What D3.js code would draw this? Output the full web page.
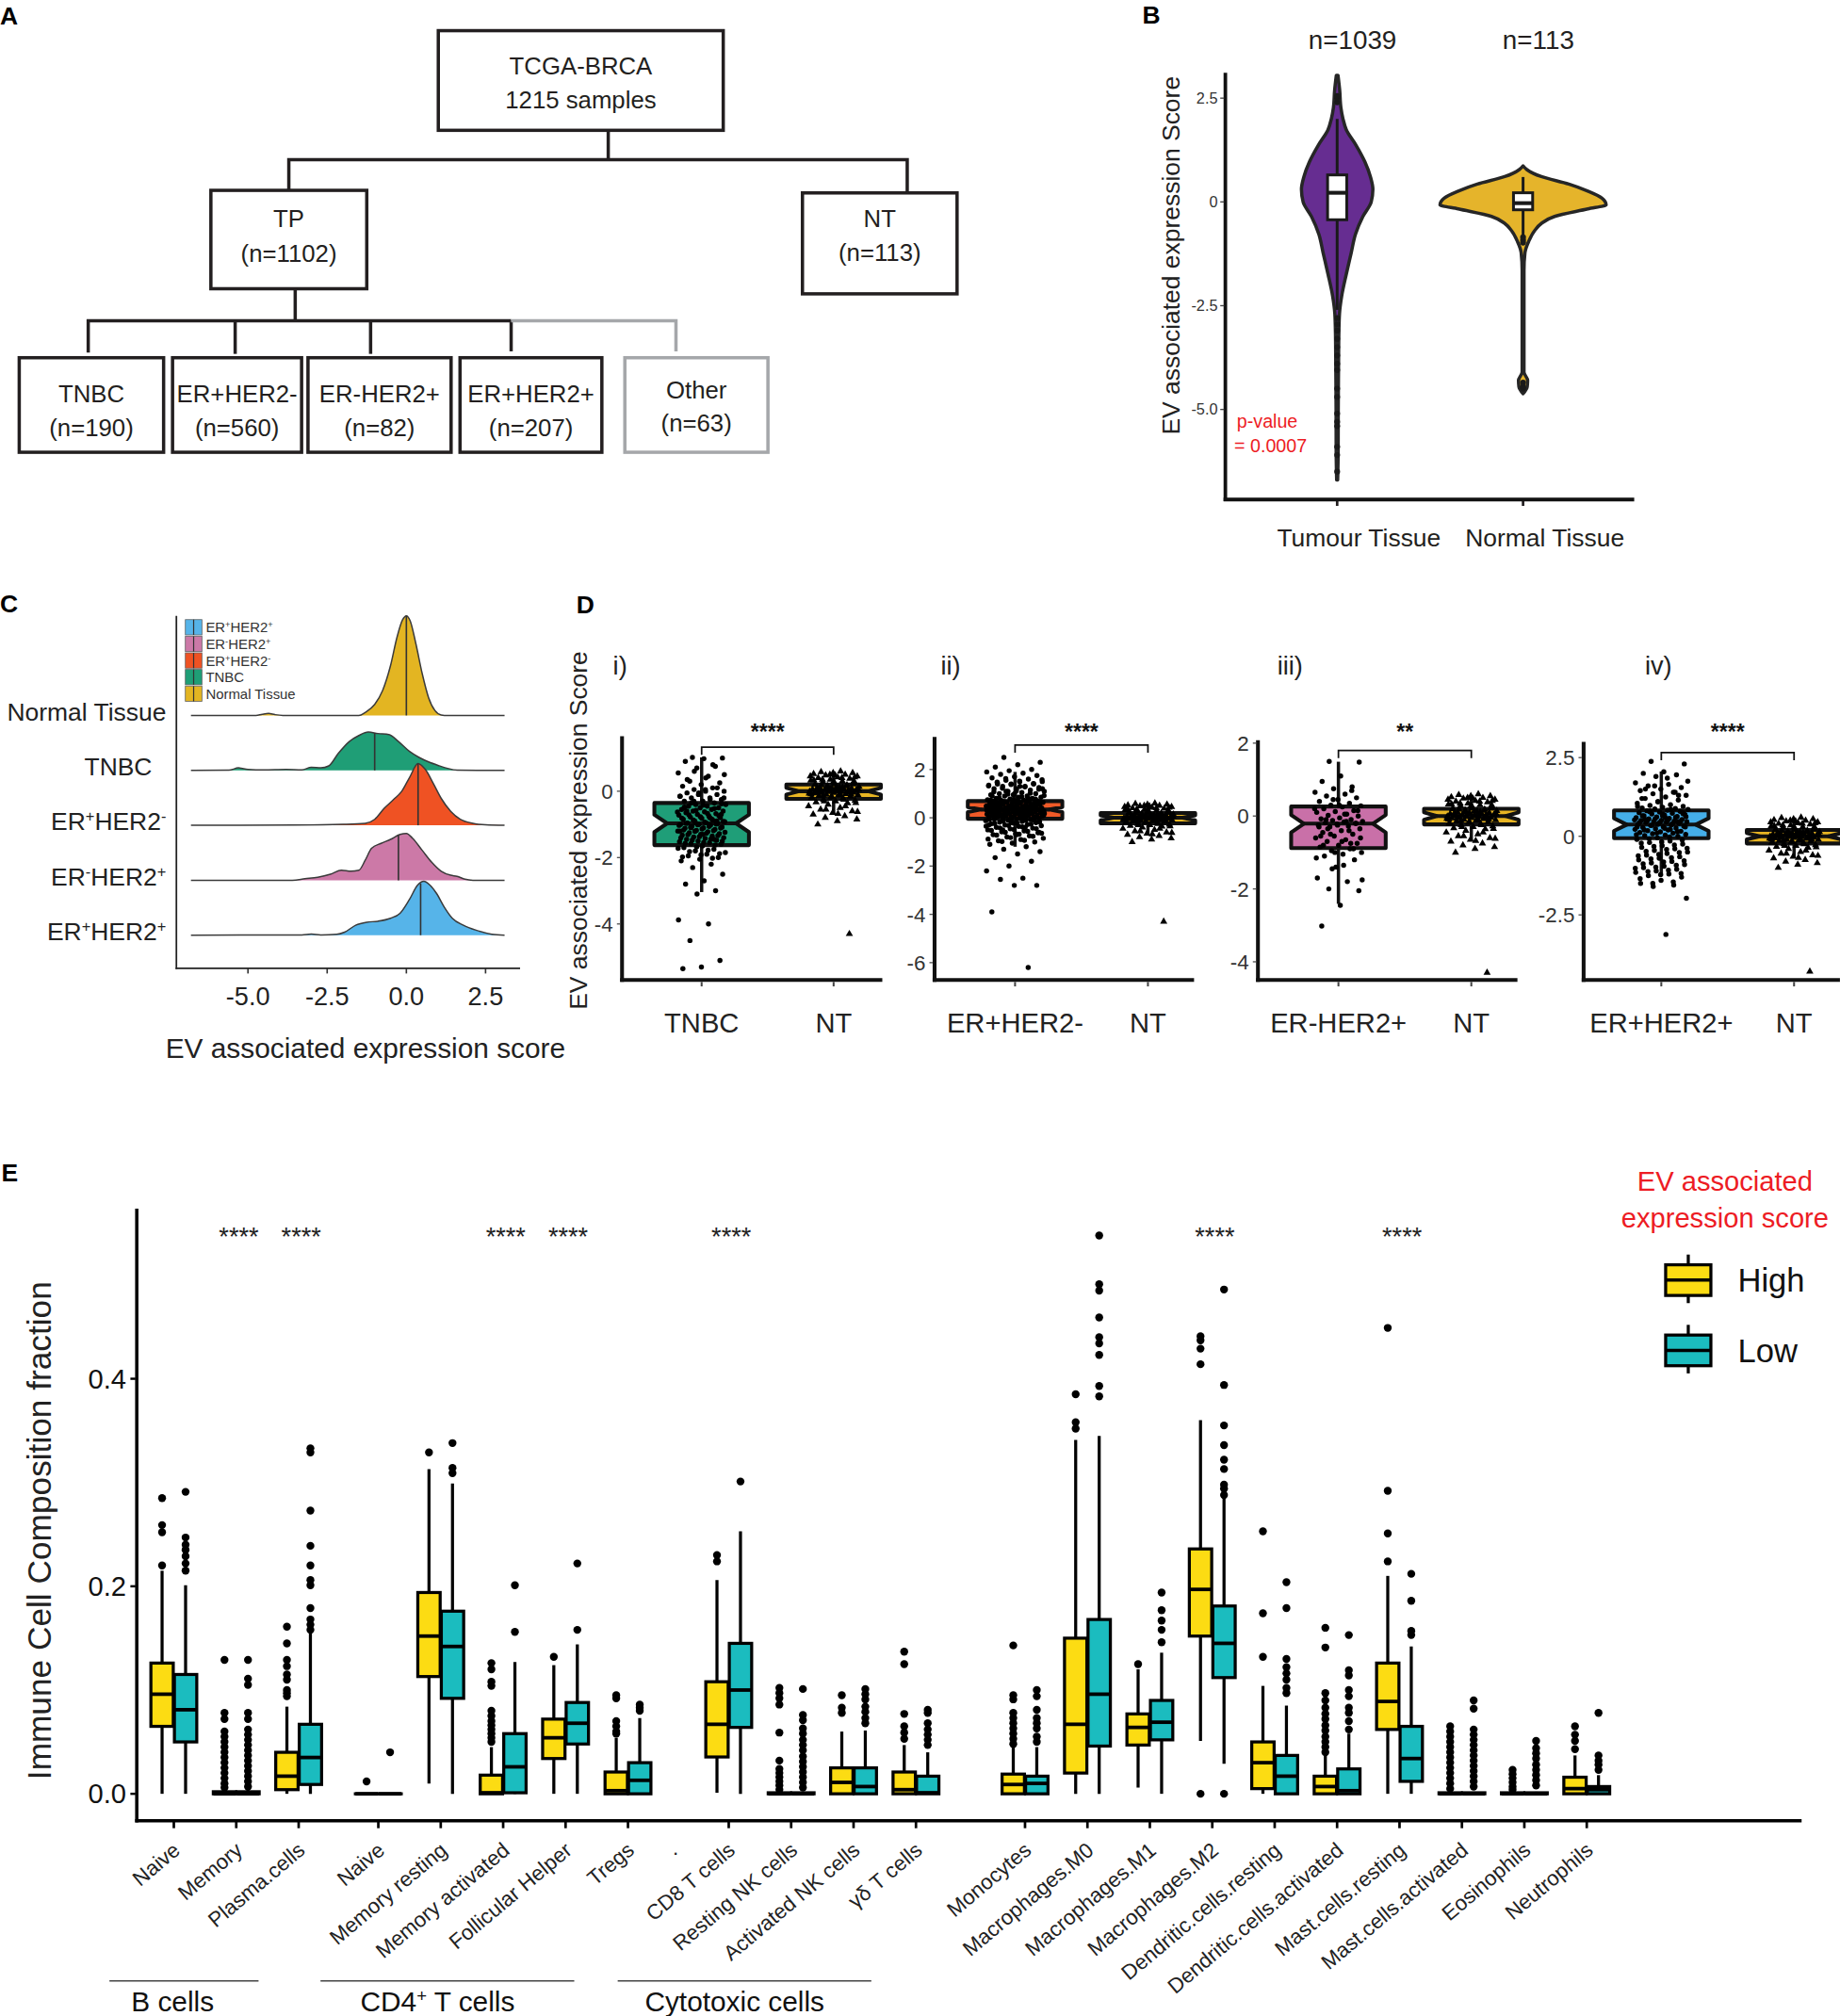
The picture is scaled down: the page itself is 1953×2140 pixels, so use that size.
<!DOCTYPE html>
<html><head><meta charset="utf-8">
<script src="https://cdn.jsdelivr.net/npm/d3@7"></script>
<style>body{margin:0;background:#fff}svg{display:block}</style>
</head><body>
<svg id="fig" width="1953" height="2140" viewBox="0 0 1440 1578"></svg>
<script>
// ================= DATA =================
// Panel A
const treeRoot = ["TCGA-BRCA", "1215 samples"];
const treeLevel1 = [["TP", "(n=1102)"], ["NT", "(n=113)"]];
const treeLevel2 = [["TNBC", "(n=190)"], ["ER+HER2-", "(n=560)"], ["ER-HER2+", "(n=82)"], ["ER+HER2+", "(n=207)"], ["Other", "(n=63)"]];

// Panel B (violin)
const violinGroups = ["Tumour Tissue", "Normal Tissue"];
const violinN = ["n=1039", "n=113"];
const violinTicks = [2.5, 0, -2.5, -5.0];
const violinTickLabels = ["2.5", "0", "-2.5", "-5.0"];
const tumourDensity = [[3.05,0.01],[2.7,0.03],[2.27,0.045],[2.0,0.07],[1.74,0.11],[1.39,0.22],[0.96,0.335],[0.61,0.40],[0.30,0.43],[0,0.41],[-0.35,0.31],[-0.78,0.22],[-1.22,0.17],[-1.74,0.11],[-2.26,0.055],[-2.69,0.028],[-3.2,0.02],[-3.82,0.017],[-5,0.013],[-6.0,0.012],[-6.7,0.006]];
const normalDensity = [[0.87,0.0],[0.78,0.045],[0.61,0.22],[0.43,0.55],[0.26,0.78],[0.09,0.95],[-0.07,1.0],[-0.17,0.78],[-0.35,0.38],[-0.52,0.22],[-0.69,0.14],[-0.95,0.068],[-1.22,0.023],[-1.65,0.011],[-3,0.011],[-4.1,0.011],[-4.3,0.055],[-4.45,0.05],[-4.62,0.0]];
const tumourBox = [-0.43, 0.22, 0.65, -2.6, 2.0];   // q1, median, q3, low whisker, high whisker
const normalBox = [-0.19, -0.03, 0.22, -0.8, 0.6];
const tumourOutliers = [2.4,2.5,2.55,-2.8,-2.95,-3.1,-3.3,-3.5,-3.7,-3.9,-4.05,-4.5,-4.7,-5.1,-5.3,-5.4,-5.9,-6.1,-6.5];
const normalOutliers = [-0.85,-0.92,-0.98,-4.35,-4.45,-4.5];
const pValueText = ["p-value", "= 0.0007"];

// Panel C (ridges)
const ridgeGroups = ["Normal Tissue", "TNBC", "ER+HER2-", "ER-HER2+", "ER+HER2+"];
const ridgeMedians = [0.0, -1.0, 0.37, -0.25, 0.45];
const ridgeNormal = [[-6.8,0],[-4.75,0],[-4.55,0.012],[-4.35,0.02],[-4.15,0.008],[-3.9,0],[-1.5,0],[-1.3,0.03],[-1.0,0.11],[-0.75,0.25],[-0.5,0.5],[-0.3,0.78],[-0.12,0.96],[0.0,1.0],[0.12,0.95],[0.3,0.72],[0.5,0.42],[0.7,0.18],[0.9,0.05],[1.1,0.005],[1.3,0],[3.1,0]];
const ridgeTNBC = [[-6.8,0],[-5.6,0.002],[-5.3,0.025],[-5.0,0.01],[-4.5,0.005],[-3.8,0.01],[-3.3,0.005],[-3.0,0.03],[-2.7,0.025],[-2.45,0.045],[-2.15,0.17],[-1.8,0.29],[-1.5,0.35],[-1.2,0.385],[-0.9,0.37],[-0.55,0.36],[-0.25,0.29],[0.1,0.19],[0.4,0.13],[0.7,0.085],[1.0,0.05],[1.3,0.02],[1.6,0.003],[3.1,0]];
const ridgeERpHER2n = [[-6.8,0],[-3.5,0.003],[-2.0,0.01],[-1.3,0.02],[-1.0,0.06],[-0.7,0.17],[-0.4,0.26],[-0.15,0.34],[0.1,0.48],[0.37,0.62],[0.6,0.56],[0.85,0.42],[1.1,0.27],[1.4,0.14],[1.7,0.06],[2.1,0.02],[2.5,0.005],[3.1,0]];
const ridgeERnHER2p = [[-6.8,0],[-3.6,0],[-3.2,0.015],[-2.8,0.03],[-2.4,0.06],[-2.05,0.1],[-1.75,0.09],[-1.5,0.1],[-1.3,0.2],[-1.1,0.32],[-0.8,0.37],[-0.5,0.41],[-0.2,0.46],[0.0,0.47],[0.2,0.42],[0.5,0.3],[0.8,0.18],[1.1,0.09],[1.4,0.05],[1.6,0.04],[1.85,0.01],[2.1,0],[3.1,0]];
const ridgeERpHER2p = [[-6.8,0],[-3.3,0.003],[-3.0,0.012],[-2.7,0.003],[-2.2,0.008],[-1.95,0.03],[-1.6,0.1],[-1.25,0.13],[-0.9,0.14],[-0.5,0.17],[-0.2,0.22],[0.1,0.36],[0.35,0.5],[0.55,0.54],[0.75,0.5],[0.95,0.42],[1.2,0.28],[1.45,0.17],[1.8,0.1],[2.2,0.05],[2.7,0.01],[3.1,0]];
const ridgeTicks = [-5.0, -2.5, 0.0, 2.5];
const ridgeTickLabels = ["-5.0", "-2.5", "0.0", "2.5"];

// Panel D (notched boxes + points)
const dTumourGroups = ["TNBC", "ER+HER2-", "ER-HER2+", "ER+HER2+"];
const dRoman = ["i)", "ii)", "iii)", "iv)"];
const dSig = ["****", "****", "**", "****"];
const dTumourStats = [[-1.625,-0.97,-0.355,-3.04,1.02],[-0.04,0.34,0.69,-1.2,1.9],[-0.88,-0.21,0.26,-2.41,1.49],[-0.06,0.37,0.82,-1.26,2.06]];
const dTumourNotch = [0.26, 0.1, 0.24, 0.2];
const dNTStats = [-0.23, 0.0, 0.2, -0.68, 0.57];
const dNTNotch = 0.1;
const dTicks = [[-4,-2,0],[-6,-4,-2,0,2],[-4,-2,0,2],[-2.5,0,2.5]];
const dDomains = [[-5.69,1.66],[-6.72,3.35],[-4.5,2.08],[-4.57,3.0]];
const tnbcScores = [1.02,1.0,0.98,0.9,0.75,0.7,0.55,0.45,0.3,0.25,0.2,0.15,0.1,0.05,0.0,0.0,-0.05,-0.1,-0.1,-0.15,-0.2,-0.2,-0.25,-0.3,-0.3,
 -0.35,-0.4,-0.4,-0.45,-0.45,-0.5,-0.5,-0.55,-0.55,-0.6,-0.6,-0.62,-0.65,-0.68,-0.7,-0.72,-0.75,-0.78,-0.8,-0.82,-0.85,-0.88,-0.9,-0.92,-0.95,-0.96,-0.98,-1.0,-1.0,-1.02,-1.05,-1.08,-1.1,-1.12,-1.15,-1.18,-1.2,-1.22,-1.25,-1.28,-1.3,-1.32,-1.35,-1.38,-1.4,-1.42,-1.45,-1.48,-1.5,-1.52,-1.55,-1.58,-1.6,
 -1.65,-1.7,-1.75,-1.8,-1.85,-1.9,-1.95,-2.0,-2.05,-2.1,-2.2,-2.3,-2.5,-2.7,-2.8,-3.0,-3.1,-3.88,-4.0,-4.5,-5.1,-5.3,-5.35,
 0.8,0.6,0.5,0.4,0.35,0.1,-0.05,-0.15,-0.25,-0.35,-0.38,-0.42,-0.48,-0.52,-0.58,-0.63,-0.67,-0.71,-0.74,-0.77,-0.81,-0.84,-0.87,-0.91,-0.93,-0.97,-0.99,-1.01,-1.03,-1.06,-1.09,-1.11,-1.14,-1.17,-1.19,-1.21,-1.24,-1.27,-1.31,-1.34,-1.37,-1.41,-1.44,-1.47,-1.51,-1.54,-1.57,-1.62,-1.68,-1.72,-1.78,-1.82,-1.88,-1.92,-1.98,-2.02,-0.3,-0.2,0.05,-0.6,-0.9,-1.0,-1.2,-0.8,-1.1,-0.7,-1.3,-0.5,-1.45,-0.95];
const erpHer2nScores = [2.5,2.3,2.2,2.1,2.0,1.95,1.9,1.85,1.8,1.75,1.7,1.65,1.6,1.55,1.5,1.5,1.45,1.4,1.4,1.35,1.3,1.3,1.25,1.2,1.2,1.15,1.1,1.1,1.05,1.0,1.0,0.95,0.95,0.9,0.9,0.85,0.85,0.8,0.8,0.78,0.75,
 0.74,0.72,0.7,0.69,0.68,0.66,0.65,0.64,0.62,0.61,0.6,0.58,0.57,0.56,0.55,0.54,0.52,0.51,0.5,0.49,0.48,0.47,0.46,0.45,0.44,0.43,0.42,0.41,0.4,0.39,0.38,0.37,0.36,0.35,0.35,0.34,0.33,0.32,0.31,0.3,0.29,0.28,0.27,0.26,0.25,0.24,0.23,0.22,0.21,0.2,0.19,0.18,0.17,0.16,0.15,0.14,0.13,0.12,0.11,0.1,0.09,0.08,0.07,0.06,0.05,0.04,0.03,0.02,0.01,0.0,-0.02,-0.04,
 -0.06,-0.08,-0.1,-0.12,-0.15,-0.18,-0.2,-0.22,-0.25,-0.28,-0.3,-0.33,-0.36,-0.4,-0.43,-0.46,-0.5,-0.54,-0.58,-0.62,-0.66,-0.7,-0.75,-0.8,-0.85,-0.9,-0.95,-1.0,-1.05,-1.1,-1.2,-1.3,-1.4,-1.5,-1.65,-1.8,-2.0,-2.2,-2.5,-2.55,-2.8,-2.8,-3.9,-6.2,
 1.62,1.58,1.52,1.48,1.42,1.38,1.32,1.28,1.22,1.18,1.12,1.08,1.02,0.98,0.92,0.88,0.82,0.78,0.76,0.73,0.71,0.67,0.63,0.59,0.55,0.53,0.49,0.45,0.41,0.37,0.33,0.29,0.25,0.21,0.17,0.13,0.09,0.05,0.01,-0.03,-0.07,-0.11,-0.14,-0.17,-0.21,-0.24,-0.27,-0.32,-0.35,-0.38,-0.42,-0.45,-0.48,-0.52,-0.56,-0.6,-0.64,-0.68,-0.72,-0.77,-0.82,-0.88,-0.93,-0.98,
 0.6,0.5,0.4,0.3,0.2,0.1,0.0,0.55,0.45,0.35,0.25,0.15,0.05,0.65,0.7,0.62,0.52,0.42,0.32,0.22,0.12,0.02,1.0,0.9,0.8,1.1,1.2,1.3,1.4,-0.1,-0.2,-0.3,-0.4,-0.5,-0.6,-0.7,0.48,0.38,0.28,0.18,0.08,0.58,0.68,0.72,0.57,0.47,0.37,0.27,0.17,0.07];
const ernHer2pScores = [1.5,1.48,1.1,0.95,0.8,0.75,0.65,0.6,0.55,0.5,0.45,0.4,0.35,0.3,0.28,0.25,0.2,0.15,0.12,0.1,0.05,0.02,0.0,-0.05,-0.08,-0.1,-0.12,-0.15,-0.16,-0.18,-0.2,-0.22,-0.25,-0.28,-0.3,-0.35,-0.4,-0.45,-0.5,-0.55,-0.6,-0.65,-0.7,-0.75,-0.8,-0.85,-0.9,-0.95,-1.0,-1.05,-1.1,-1.2,-1.4,-1.7,-1.8,-2.0,-2.05,-2.45,-3.02,
 0.7,0.45,0.2,0.05,-0.1,-0.2,-0.25,-0.3,-0.4,-0.5,-0.6,-0.7,-0.8,-0.9,-1.0,-1.15,-0.15,-0.35,0.15,0.3,-0.55,-0.75,-1.45,-1.75,-1.35];
const erpHer2pScores = [2.38,2.3,2.05,2.0,1.95,1.9,1.7,1.65,1.6,1.55,1.5,1.45,1.4,1.35,1.3,1.25,1.2,1.15,1.1,1.05,1.0,0.98,0.95,0.92,0.9,0.88,
 0.87,0.85,0.83,0.81,0.79,0.77,0.75,0.73,0.71,0.69,0.67,0.65,0.63,0.61,0.59,0.57,0.55,0.53,0.51,0.5,0.48,0.47,0.46,0.45,0.44,0.42,0.4,0.38,0.36,0.34,0.32,0.3,0.28,0.26,0.24,0.22,0.2,0.18,0.16,0.14,0.12,0.1,0.08,0.06,0.04,0.02,0.0,
 -0.05,-0.1,-0.15,-0.2,-0.25,-0.3,-0.35,-0.4,-0.45,-0.5,-0.55,-0.6,-0.65,-0.7,-0.75,-0.8,-0.85,-0.9,-0.95,-1.0,-1.05,-1.1,-1.15,-1.2,-1.25,-1.3,-1.4,-1.5,-1.55,-1.6,-1.97,-3.12,
 1.5,1.3,1.1,0.95,0.85,0.8,0.75,0.7,0.65,0.6,0.55,0.52,0.5,0.49,0.47,0.45,0.43,0.4,0.35,0.3,0.25,0.2,0.15,0.1,0.05,-0.02,-0.08,-0.12,-0.18,-0.22,-0.28,-0.32,-0.38,-0.42,-0.48,-0.52,-0.58,-0.62,-0.68,-0.72,-0.78,-0.82,-0.88,-0.92,-0.98,-1.02,-1.08,-1.12,-1.18,-1.22,-1.35,-1.45,-1.5,0.62,0.58,0.54,0.46,0.38,0.3,0.22,0.78,0.72,0.66,1.2,1.4,1.6,1.75,1.85];
const ntScores = [0.6,0.58,0.55,0.55,0.52,0.5,0.48,0.45,0.42,0.4,0.38,0.35,0.32,0.3,0.28,0.25,0.22,0.2,0.18,0.16,0.14,0.12,0.1,0.09,0.08,0.06,0.05,0.04,0.03,0.02,0.01,0.0,0.0,-0.01,-0.02,-0.03,-0.04,-0.05,-0.06,-0.08,-0.1,-0.11,-0.12,-0.14,-0.16,-0.18,-0.2,-0.22,-0.25,-0.28,-0.3,-0.33,-0.36,-0.4,-0.45,-0.5,-0.55,-0.6,-0.65,-0.7,-0.75,-0.8,-0.85,-0.9,-1.0,-4.3,
 0.5,0.45,0.4,0.35,0.3,0.25,0.2,0.15,0.1,0.05,0.0,-0.05,-0.1,-0.15,-0.2,-0.25,-0.3,-0.35,0.12,0.08,0.03,-0.02,-0.07,-0.12,0.18,0.22,0.28,0.33,-0.45,-0.55,-0.62,-0.68,0.02,-0.04,0.06,-0.09,0.11,-0.13,0.42,0.48];

// Panel E (immune cells)
const eCells = ["Naive","Memory","Plasma.cells","Naive","Memory resting","Memory activated","Follicular Helper","Tregs","CD8 T cells","Resting NK cells","Activated NK cells","γδ T cells","Monocytes","Macrophages.M0","Macrophages.M1","Macrophages.M2","Dendritic.cells.resting","Dendritic.cells.activated","Mast.cells.resting","Mast.cells.activated","Eosinophils","Neutrophils"];
const eCellGroup = [0,0,0,1,1,1,1,1,2,2,2,2,3,3,3,3,3,3,3,3,3,3];
const eGroupLabels = ["B cells", "CD4+ T cells", "Cytotoxic cells"];
const eSig = ["","****","****","","","****","****","","****","","","","","","","****","","","****","","",""];
const eSeries = ["High", "Low"];
const eTicks = [0.0, 0.2, 0.4];
const eTickLabels = ["0.0", "0.2", "0.4"];
// [low whisker, q1, median, q3, high whisker]
const eHighStats = [[0,0.065,0.096,0.126,0.215],[0,0,0,0.002,0.004],[0,0.004,0.017,0.04,0.084],[0,0,0,0,0],[0.01,0.113,0.152,0.194,0.313],[0,0,0.001,0.018,0.045],[0,0.034,0.054,0.072,0.124],[0,0,0.003,0.021,0.054],[0.001,0.0355,0.067,0.108,0.206],[0,0,0,0.001,0.002],[0,0,0.011,0.025,0.06],[0,0,0.004,0.021,0.047],[0,0,0.009,0.019,0.045],[0,0.02,0.067,0.15,0.341],[0.006,0.047,0.064,0.077,0.12],[0.051,0.152,0.197,0.236,0.36],[0,0.005,0.03,0.05,0.104],[0,0,0.007,0.017,0.037],[0,0.062,0.089,0.126,0.21],[0,0,0,0.001,0.002],[0,0,0,0.001,0.002],[0,0,0.005,0.016,0.037]];
const eHighOut = [[0.22,0.252,0.259,0.285],[0.129,0.078,0.072,0.06,0.055,0.05,0.045,0.04,0.035,0.03,0.025,0.02,0.015,0.01,0.006],[0.161,0.145,0.129,0.123,0.115,0.11,0.1,0.097,0.094],[0.012],[0.329],[0.126,0.12,0.108,0.104,0.08,0.075,0.07,0.066,0.062,0.058,0.054,0.05],[0.132],[0.095,0.092,0.07,0.065,0.06,0.058],[0.23,0.224],[0.102,0.097,0.092,0.086,0.059,0.032,0.024,0.02,0.016,0.012,0.008,0.004],[0.095,0.083,0.078],[0.137,0.125,0.077,0.065,0.059,0.053],[0.143,0.095,0.091,0.078,0.073,0.068,0.063,0.058,0.053,0.048],[0.385,0.358,0.352],[0.125],[0.441,0.437,0.429,0.414,0.0],[0.253,0.174,0.132],[0.16,0.141,0.097,0.09,0.083,0.077,0.072,0.066,0.061,0.055,0.05,0.045,0.04],[0.449,0.292,0.251,0.224],[0.065,0.06,0.055,0.05,0.045,0.04,0.035,0.03,0.025,0.02,0.015,0.01,0.005],[0.023,0.019,0.015,0.011,0.007,0.004],[0.065,0.057,0.051,0.043]];
const eLowStats = [[0,0.05,0.081,0.115,0.201],[0,0,0,0.002,0.004],[0,0.009,0.035,0.067,0.155],[0,0,0,0,0],[0,0.092,0.142,0.176,0.299],[0,0.001,0.026,0.058,0.127],[0,0.048,0.068,0.088,0.144],[0,0,0.013,0.03,0.073],[0,0.064,0.1,0.145,0.253],[0,0,0,0.001,0.002],[0,0,0.007,0.025,0.061],[0,0,0.001,0.017,0.04],[0,0,0.01,0.017,0.045],[0,0.046,0.096,0.168,0.345],[0,0.052,0.069,0.09,0.136],[0.029,0.112,0.145,0.181,0.286],[0,0,0.017,0.037,0.085],[0,0,0.003,0.024,0.058],[0,0.012,0.034,0.065,0.142],[0,0,0,0.001,0.002],[0,0,0,0.001,0.002],[0,0,0.004,0.007,0.018]];
const eLowOut = [[0.215,0.222,0.229,0.235,0.24,0.247,0.291],[0.129,0.111,0.105,0.078,0.072,0.062,0.057,0.052,0.047,0.042,0.037,0.032,0.027,0.022,0.017,0.012,0.007],[0.333,0.329,0.273,0.239,0.22,0.206,0.201,0.179,0.168,0.163,0.158],[0.04],[0.338,0.314,0.309],[0.156,0.201],[0.158,0.222],[0.086,0.083,0.08],[0.301],[0.101,0.076,0.071,0.063,0.058,0.052,0.047,0.042,0.036,0.031,0.026,0.021,0.016,0.011,0.006],[0.101,0.096,0.091,0.084,0.079,0.073,0.068],[0.081,0.078,0.068,0.062,0.057,0.052,0.047],[0.1,0.094,0.081,0.073,0.068,0.063,0.055,0.05],[0.538,0.491,0.485,0.459,0.44,0.434,0.423,0.393,0.383],[0.194,0.177,0.167,0.158,0.146],[0.486,0.394,0.355,0.336,0.322,0.313,0.298,0.294,0.288,0.0],[0.204,0.179,0.13,0.122,0.116,0.11,0.102,0.097],[0.153,0.119,0.114,0.1,0.094,0.083,0.078,0.07,0.062],[0.212,0.186,0.157,0.153],[0.09,0.082,0.062,0.057,0.052,0.047,0.042,0.037,0.032,0.027,0.022,0.017,0.012,0.007],[0.051,0.044,0.039,0.034,0.028,0.023,0.018,0.013,0.008],[0.078,0.037,0.032,0.028,0.023]];

// ================= DRAWING =================
const FONT = "'Liberation Sans', Arial, sans-serif";
const svg = d3.select("#fig").attr("font-family", FONT);
svg.append("rect").attr("width", 1440).attr("height", 1578).attr("fill", "#fff");

function txt(g, x, y, s, size, opts = {}) {
  const t = g.append("text").attr("x", x).attr("y", y).attr("font-size", size)
    .attr("fill", opts.fill || "#231f20").attr("text-anchor", opts.anchor || "middle").text(s);
  if (opts.weight) t.attr("font-weight", opts.weight);
  if (opts.transform) t.attr("transform", opts.transform);
  return t;
}
function supParts(label) {
  const m = label.match(/^ER([+-])HER2([+-])$/);
  if (!m) return [[label, false]];
  return [["ER", false], [m[1], true], ["HER2", false], [m[2], true]];
}
function supText(t, parts) {
  parts.forEach(([s, sup]) => {
    const ts = t.append("tspan").text(s);
    if (sup) ts.attr("baseline-shift", "super").attr("font-size", "0.62em");
  });
}
function lineP(g, pts, stroke, w) {
  g.append("path").attr("d", d3.line()(pts)).attr("fill", "none").attr("stroke", stroke).attr("stroke-width", w);
}

// panel letters
[["A", 0, 19], ["B", 894, 18.5], ["C", 0, 479.5], ["D", 451, 480], ["E", 1, 924.5]].forEach(([l, x, y]) =>
  txt(svg, x, y, l, 19.5, { anchor: "start", weight: "bold", fill: "#000" }));

// ---------- Panel A ----------
(function () {
  const g = svg.append("g");
  const dark = "#231f20", gray = "#a5a7aa", sw = 2.6;
  const rootBox = { x: 343, y: 24, w: 223, h: 78 };
  const l1 = [{ x: 165, y: 149, w: 122, h: 77 }, { x: 628, y: 151, w: 121, h: 79 }];
  const l2 = [{ x: 15, y: 280, w: 113, h: 74 }, { x: 135, y: 280, w: 101, h: 74 }, { x: 241, y: 280, w: 112, h: 74 },
              { x: 360, y: 280, w: 111, h: 74 }, { x: 489, y: 280, w: 112, h: 74 }];
  const box = (b, lines, isGray, off) => {
    g.append("rect").attr("x", b.x).attr("y", b.y).attr("width", b.w).attr("height", b.h)
      .attr("fill", "none").attr("stroke", isGray ? gray : dark).attr("stroke-width", sw);
    const cx = b.x + b.w / 2;
    txt(g, cx, b.y + off[0], lines[0], 19);
    txt(g, cx, b.y + off[1], lines[1], 19);
  };
  box(rootBox, treeRoot, false, [34, 61]);
  box(l1[0], treeLevel1[0], false, [29, 56]);
  box(l1[1], treeLevel1[1], false, [27, 53]);
  treeLevel2.forEach((d, i) => box(l2[i], d, i === 4, i === 4 ? [32, 58] : [35, 61.5]));
  lineP(g, [[476, 102], [476, 125]], dark, sw);
  lineP(g, [[226, 149], [226, 125], [710, 125], [710, 151]], dark, sw);
  lineP(g, [[231, 226], [231, 251]], dark, sw);
  lineP(g, [[69, 276], [69, 251], [400, 251]], dark, sw);
  lineP(g, [[184, 251], [184, 277]], dark, sw);
  lineP(g, [[290, 251], [290, 277]], dark, sw);
  lineP(g, [[400, 251], [400, 275]], dark, sw);
  lineP(g, [[400, 251], [529, 251], [529, 275]], gray, sw);
})();

// ---------- Panel B ----------
(function () {
  const g = svg.append("g");
  const y = d3.scaleLinear().domain([-7.17, 3.11]).range([391, 57]);
  const x = d3.scalePoint().domain(violinGroups).range([1046.5, 1192]);
  const w = d3.scaleLinear().domain([0, 1]).range([0, 65]);
  const fills = ["#662d91", "#e5b42b"];
  const dens = [tumourDensity, normalDensity];
  const boxes = [tumourBox, normalBox];
  const outs = [tumourOutliers, normalOutliers];
  violinGroups.forEach((grp, i) => {
    const cx = x(grp);
    const area = d3.area().curve(d3.curveMonotoneY).y(d => y(d[0])).x0(d => cx - w(d[1])).x1(d => cx + w(d[1]));
    const sorted = dens[i].slice().sort((a, b) => b[0] - a[0]);
    g.append("path").attr("d", area(sorted)).attr("fill", fills[i]).attr("stroke", "#262626").attr("stroke-width", 2.6).attr("stroke-linejoin", "round");
    const [q1, med, q3, lo, hi] = boxes[i];
    lineP(g, [[cx, y(hi)], [cx, y(lo)]], "#1a1a1a", 2.2);
    outs[i].forEach(v => g.append("circle").attr("cx", cx).attr("cy", y(v)).attr("r", 2.3).attr("fill", "#1a1a1a"));
    g.append("rect").attr("x", cx - 7.5).attr("y", y(q3)).attr("width", 15).attr("height", y(q1) - y(q3))
      .attr("fill", "#fff").attr("stroke", "#1a1a1a").attr("stroke-width", 2.2);
    lineP(g, [[cx - 7.5, y(med)], [cx + 7.5, y(med)]], "#1a1a1a", 3);
    txt(g, cx + 12, 38, violinN[i], 20.5);
    txt(g, cx + 17, 428, grp, 19.5);
    lineP(g, [[cx, 391], [cx, 396]], "#231f20", 2);
  });
  lineP(g, [[959, 57], [959, 392.3]], "#111", 2.8);
  lineP(g, [[957.6, 391], [1279, 391]], "#111", 2.8);
  violinTicks.forEach((v, i) => {
    lineP(g, [[955, y(v)], [958, y(v)]], "#444", 1);
    txt(g, 953, y(v) + 4, violinTickLabels[i], 12, { anchor: "end", fill: "#333" });
  });
  txt(g, 0, 0, "EV associated expression Score", 19.5, { transform: "translate(923,200) rotate(-90)", fill: "#222" });
  txt(g, 968, 335, pValueText[0], 14.5, { anchor: "start", fill: "#ed1c24" });
  txt(g, 966, 354, pValueText[1], 14.5, { anchor: "start", fill: "#ed1c24" });
})();

// ---------- Panel C ----------
(function () {
  const g = svg.append("g");
  const x = d3.scaleLinear().domain([-7.26, 3.59]).range([138, 407]);
  const base = d3.scalePoint().domain(ridgeGroups).range([560, 732]);
  const h = d3.scaleLinear().domain([0, 1]).range([0, 78]);
  const fills = ["#e3b522", "#1f9e76", "#ef5223", "#cc79a7", "#56b4e9"];
  const dens = [ridgeNormal, ridgeTNBC, ridgeERpHER2n, ridgeERnHER2p, ridgeERpHER2p];
  ridgeGroups.forEach((grp, i) => {
    const b = base(grp);
    const area = d3.area().curve(d3.curveMonotoneX).x(d => x(d[0])).y0(b).y1(d => b - h(d[1]));
    g.append("path").attr("d", area(dens[i])).attr("fill", fills[i]).attr("stroke", "none");
    const line = d3.line().curve(d3.curveMonotoneX).x(d => x(d[0])).y(d => b - h(d[1]));
    g.append("path").attr("d", line(dens[i])).attr("fill", "none").attr("stroke", "#3a3a3a").attr("stroke-width", 1.1);
    const m = ridgeMedians[i];
    const d = dens[i];
    let hv = 0;
    for (let k = 0; k < d.length - 1; k++) {
      if (m >= d[k][0] && m <= d[k + 1][0]) { const t = (m - d[k][0]) / (d[k + 1][0] - d[k][0]); hv = d[k][1] + t * (d[k + 1][1] - d[k][1]); }
    }
    lineP(g, [[x(m), b], [x(m), b - h(hv)]], "#333", 1.2);
    const lab = txt(g, i === 1 ? 119 : 130, b + 4, "", 19.5, { anchor: "end", fill: "#222" });
    supText(lab, supParts(grp));
  });
  lineP(g, [[138, 482], [138, 758.6]], "#222", 1.3);
  lineP(g, [[137.4, 758], [407, 758]], "#222", 1.3);
  ridgeTicks.forEach((v, i) => {
    lineP(g, [[x(v), 758], [x(v), 762]], "#333", 1.2);
    txt(g, x(v), 787, ridgeTickLabels[i], 20, { fill: "#222" });
  });
  txt(g, 286, 828, "EV associated expression score", 22, { fill: "#222" });
  const order = [4, 3, 2, 1, 0];
  order.forEach((gi, r) => {
    const cy = 491 + r * 13;
    g.append("rect").attr("x", 145).attr("y", cy - 6).attr("width", 13).attr("height", 12).attr("fill", fills[gi]).attr("stroke", "#666").attr("stroke-width", 0.6);
    lineP(g, [[151.5, cy - 6], [151.5, cy + 6]], "#333", 0.9);
    const t = txt(g, 161, cy + 4, "", 11, { anchor: "start", fill: "#333" });
    supText(t, supParts(ridgeGroups[gi]));
  });
})();

// ---------- Panel D ----------
(function () {
  const g = svg.append("g");
  const fills = ["#1f9e78", "#f05a28", "#c970a8", "#45aee8"];
  const ntFill = "#e8b523";
  const ptsArr = [tnbcScores, erpHer2nScores, ernHer2pScores, erpHer2pScores];
  const jw = [19, 23, 19, 21];
  const layout = [
    { x0: 486.8, x1: 690.5, top: 576.2, bot: 767.1, c: [549.1, 652.4], br: 584.8, rx: 479.7 },
    { x0: 731.4, x1: 934.5, top: 576.8, bot: 767.1, c: [794.4, 898.4], br: 583.2, rx: 736.2 },
    { x0: 984.5, x1: 1187.6, top: 579.4, bot: 767.1, c: [1047.5, 1151.5], br: 587.4, rx: 999.6 },
    { x0: 1239.4, x1: 1440, top: 580.7, bot: 767.1, c: [1300.2, 1404.1], br: 589, rx: 1287.4 }
  ];
  const jit = i => ((i * 0.6180339887 + 0.31) % 1) - 0.5;
  const notchBox = (y, cx, st, notch, fill) => {
    const [q1, med, q3, lo, hi] = st;
    const L = cx - 37, R = cx + 37, k = 10;
    lineP(g, [[cx, y(hi)], [cx, y(q3)]], "#111", 2.6);
    lineP(g, [[cx, y(q1)], [cx, y(lo)]], "#111", 2.6);
    const p = d3.path();
    p.moveTo(L, y(q3)); p.lineTo(R, y(q3)); p.lineTo(R, y(med + notch)); p.lineTo(R - k, y(med)); p.lineTo(R, y(med - notch));
    p.lineTo(R, y(q1)); p.lineTo(L, y(q1)); p.lineTo(L, y(med - notch)); p.lineTo(L + k, y(med)); p.lineTo(L, y(med + notch)); p.closePath();
    g.append("path").attr("d", p.toString()).attr("fill", fill).attr("stroke", "#111").attr("stroke-width", 3).attr("stroke-linejoin", "round");
    lineP(g, [[L + k, y(med)], [R - k, y(med)]], "#111", 3);
  };
  dTumourGroups.forEach((grp, i) => {
    const L = layout[i];
    const y = d3.scaleLinear().domain(dDomains[i]).range([L.bot, L.top]);
    const x = d3.scalePoint().domain([grp, "NT"]).range(L.c);
    notchBox(y, x(grp), dTumourStats[i], dTumourNotch[i], fills[i]);
    notchBox(y, x("NT"), dNTStats, dNTNotch, ntFill);
    ptsArr[i].forEach((v, j) => g.append("circle").attr("cx", x(grp) + jit(j) * 2 * jw[i]).attr("cy", y(v)).attr("r", 2).attr("fill", "#000"));
    const tri = d3.symbol(d3.symbolTriangle, 14);
    ntScores.forEach((v, j) => g.append("path").attr("d", tri()).attr("transform", `translate(${x("NT") + jit(j + 7) * 40},${y(v)})`).attr("fill", "#000"));
    lineP(g, [[L.x0, L.top], [L.x0, L.bot + 1.5]], "#111", 3);
    lineP(g, [[L.x0 - 1.5, L.bot], [L.x1, L.bot]], "#111", 3);
    dTicks[i].forEach(v => {
      lineP(g, [[L.x0 - 4, y(v)], [L.x0 - 1.5, y(v)]], "#555", 1);
      txt(g, L.x0 - 7, y(v) + 6, String(v), 16.5, { anchor: "end", fill: "#333" });
    });
    [grp, "NT"].forEach(c => {
      lineP(g, [[x(c), L.bot + 1.5], [x(c), L.bot + 5]], "#444", 1.5);
      txt(g, x(c), 808, c, 21.5, { fill: "#222" });
    });
    g.append("path").attr("d", `M${x(grp)},${L.br + 6}V${L.br}H${x("NT")}V${L.br + 6}`).attr("fill", "none").attr("stroke", "#111").attr("stroke-width", 1.3);
    txt(g, (x(grp) + x("NT")) / 2, 579, dSig[i], 17, { weight: "bold", fill: "#111" });
    txt(g, L.rx, 528, dRoman[i], 20, { anchor: "start", fill: "#222" });
  });
  txt(g, 0, 0, "EV associated expression Score", 19.5, { transform: "translate(459,650) rotate(-90)", fill: "#222" });
})();

// ---------- Panel E ----------
(function () {
  const g = svg.append("g");
  const y = d3.scaleLinear().domain([-0.026, 0.564]).range([1425.2, 946]);
  const gapPx = [0, 13.5, 43.5, 80];
  const idx = eCells.map((_, i) => i);
  const base = d3.scaleLinear().domain([0, 1]).range([136, 184.85]);
  const xc = i => base(i) + gapPx[eCellGroup[i]];
  const bw = 17.5, off = 9.2;
  const colors = { High: "#fcdc13", Low: "#1bbcbf" };
  const drawBox = (cx, st, out, fill) => {
    const [lo, q1, med, q3, hi] = st;
    lineP(g, [[cx, y(hi)], [cx, y(lo)]], "#000", 2.4);
    g.append("rect").attr("x", cx - bw / 2).attr("y", y(q3)).attr("width", bw).attr("height", Math.max(y(q1) - y(q3), 0.01))
      .attr("fill", fill).attr("stroke", "#000").attr("stroke-width", 2.4);
    lineP(g, [[cx - bw / 2, y(med)], [cx + bw / 2, y(med)]], "#000", 2.8);
    out.forEach(v => g.append("circle").attr("cx", cx).attr("cy", y(v)).attr("r", 3.1).attr("fill", "#000"));
  };
  idx.forEach(i => {
    const cx = xc(i);
    drawBox(cx - off, eHighStats[i], eHighOut[i], colors.High);
    drawBox(cx + off, eLowStats[i], eLowOut[i], colors.Low);
    lineP(g, [[cx, 1426], [cx, 1431]], "#000", 2);
    txt(g, 0, 0, eCells[i], 16.5, { anchor: "end", fill: "#222", transform: `translate(${cx + 6},${1450}) rotate(-40)` });
    if (eSig[i]) txt(g, cx + 2, 975, eSig[i], 20, { fill: "#222" });
  });
  txt(g, 528.8, 1452, ".", 16.5, { fill: "#222" });
  lineP(g, [[107, 946], [107, 1426.5]], "#000", 2.6);
  lineP(g, [[105.7, 1425.2], [1410, 1425.2]], "#000", 2.6);
  eTicks.forEach((v, i) => {
    lineP(g, [[102, y(v)], [106, y(v)]], "#000", 1.8);
    txt(g, 98.8, y(v) + 7.5, eTickLabels[i], 21.5, { anchor: "end", fill: "#111" });
  });
  txt(g, 0, 0, "Immune Cell Composition fraction", 26, { transform: "translate(40,1198) rotate(-90)", fill: "#222" });
  const grp = [{ a: 85.6, b: 202.3, c: 135 }, { a: 250.8, b: 449.4, c: 342.4 }, { a: 483.4, b: 681.9, c: 574.9 }];
  eGroupLabels.forEach((lab, i) => {
    lineP(g, [[grp[i].a, 1550.5], [grp[i].b, 1550.5]], "#444", 1.1);
    const t = txt(g, grp[i].c, 1574, "", 22, { fill: "#111" });
    if (lab.startsWith("CD4+")) supText(t, [["CD4", false], ["+", true], [" T cells", false]]);
    else t.text(lab);
  });
  txt(g, 1350, 932, "EV associated", 21.5, { fill: "#ed1c24" });
  txt(g, 1350, 961, "expression score", 21.5, { fill: "#ed1c24" });
  eSeries.forEach((s, i) => {
    const cy = 1002 + i * 55;
    lineP(g, [[1321.3, cy - 20], [1321.3, cy + 18]], "#000", 2.4);
    g.append("rect").attr("x", 1303.6).attr("y", cy - 12).attr("width", 35.4).attr("height", 24).attr("fill", colors[s]).attr("stroke", "#000").attr("stroke-width", 2.4);
    lineP(g, [[1303.6, cy], [1339, cy]], "#000", 2.6);
    txt(g, 1360, cy + 9.2, s, 25.5, { anchor: "start", fill: "#111" });
  });
})();
</script>
</body></html>
